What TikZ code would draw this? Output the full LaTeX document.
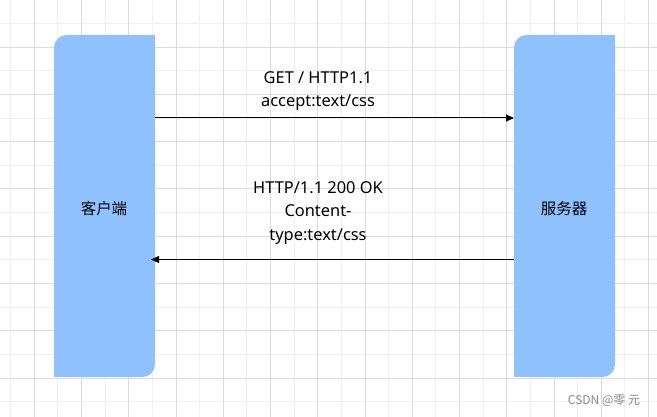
\documentclass[tikz,border=0pt]{standalone}
\usepackage{fontspec}
\setmainfont{Noto Sans}
\newfontfamily\cjk{Noto Sans CJK SC}
\usetikzlibrary{arrows.meta}
\definecolor{boxblue}{HTML}{8FC1FF}
\definecolor{gridminor}{HTML}{EFEFEF}
\definecolor{gridmajor}{HTML}{DCDCDC}
\definecolor{wmgray}{HTML}{8A8A8A}
\tikzset{
  minorline/.style={draw=gridminor,line width=1pt},
  majorline/.style={draw=gridmajor,line width=1pt},
  lane/.style={rectangle,fill=boxblue,rounded corners=12.5pt,minimum width=101pt,minimum height=342pt,inner sep=0pt,outer sep=0pt},
  lanetext/.style={font=\cjk\fontsize{15.5pt}{20pt}\selectfont},
  msg/.style={align=center,inner sep=0pt,font=\fontsize{16.4pt}{23.4pt}\selectfont},
  arr/.style={draw=black,line width=1pt,-{Triangle[length=8pt,width=7pt]}},
}
\begin{document}
\begin{tikzpicture}[x=1pt,y=-1pt]
\useasboundingbox (0,0) rectangle (657,417);
\fill[white] (0,0) rectangle (657,417);
% grid
\foreach \k in {0,2,...,26} \draw[minorline] ({10.7+23.625*\k},0) -- ({10.7+23.625*\k},417);
\foreach \k in {1,3,...,17} \draw[minorline] (0,{23.625*\k}) -- (657,{23.625*\k});
\foreach \k in {1,3,...,27} \draw[majorline] ({10.7+23.625*\k},0) -- ({10.7+23.625*\k},417);
\foreach \k in {2,4,...,16} \draw[majorline] (0,{23.625*\k}) -- (657,{23.625*\k});
% lanes
\node[lane] (L) at (104.5,206) {};
\fill[boxblue] ([shift={(-15pt,-15pt)}]L.north east) rectangle (L.north east);
\fill[boxblue] (L.south west) rectangle ([shift={(15pt,15pt)}]L.south west);
\node[lanetext] (Lt) at (104,209) {客户端};
\node[lane] (R) at (564.5,206) {};
\fill[boxblue] ([shift={(-15pt,-15pt)}]R.north east) rectangle (R.north east);
\fill[boxblue] (R.south west) rectangle ([shift={(15pt,15pt)}]R.south west);
\node[lanetext] (Rt) at (564,209) {服务器};
% messages
\draw[arr] ([yshift=88pt]L.east) -- ([yshift=88pt]R.west);
\node[msg] (m1) at (318,91) {GET / HTTP1.1\\accept:text/css};
\draw[arr] ([yshift=-53.5pt]R.west) -- ([yshift=-53.5pt,xshift=-4pt]L.east);
\node[msg] (m2) at (318,213) {HTTP/1.1 200 OK\\Content-\\type:text/css};
% watermark
\node[font=\cjk\fontsize{12pt}{14pt}\selectfont,text=wmgray] (wm) at (604,401) {CSDN @零 元};
\end{tikzpicture}
\end{document}
